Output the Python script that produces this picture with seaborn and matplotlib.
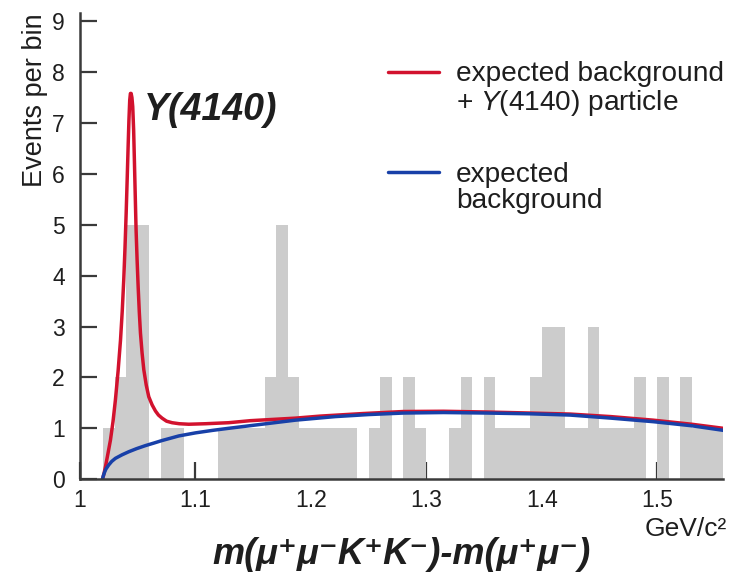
import numpy as np
import pandas as pd
import matplotlib
matplotlib.use("Agg")
import matplotlib.pyplot as plt
from matplotlib.lines import Line2D
import seaborn as sns

# ---- data ----
bin_edges = [round(1.02 + 0.01 * i, 2) for i in range(55)]
counts = [1, 2, 5, 5, 0, 1, 1, 0, 0, 0,
          1, 1, 1, 1, 2, 5, 2, 1, 1, 1,
          1, 1, 0, 1, 2, 0, 2, 1, 0, 0,
          1, 2, 0, 2, 1, 1, 1, 2, 3, 3,
          1, 1, 3, 1, 1, 1, 2, 0, 2, 0,
          2, 1, 1, 1]

bg_x = [1.0195, 1.0200, 1.0207, 1.0215, 1.0225, 1.0237, 1.0249, 1.0275, 1.0307,
        1.0365, 1.0423, 1.0490, 1.0567, 1.0640, 1.0711, 1.0856, 1.1000, 1.1150,
        1.1288, 1.1577, 1.1866, 1.2212, 1.2500, 1.2803, 1.3150, 1.3525, 1.3900,
        1.4247, 1.4600, 1.4968, 1.5300, 1.5574]
bg_y = [0.0, 0.05, 0.10, 0.15, 0.20, 0.24, 0.28, 0.35, 0.41,
        0.48, 0.54, 0.60, 0.66, 0.71, 0.76, 0.85, 0.91, 0.96,
        1.00, 1.08, 1.16, 1.23, 1.27, 1.30, 1.31, 1.30, 1.285,
        1.26, 1.20, 1.13, 1.05, 0.96]

sig_x = [1.0195, 1.0208, 1.0221, 1.0242, 1.0264, 1.0286, 1.0307, 1.0330, 1.0351,
         1.0366, 1.0379, 1.0390, 1.0400, 1.0409, 1.0417, 1.0424, 1.0431, 1.0437,
         1.0443, 1.0450, 1.0457, 1.0465, 1.0472, 1.0479, 1.0486, 1.0495, 1.0504,
         1.0514, 1.0524, 1.0538, 1.0553, 1.0574, 1.0596, 1.0625, 1.0654, 1.0680,
         1.0711, 1.0750, 1.0798, 1.0860, 1.0942, 1.1087, 1.1288, 1.1476, 1.1866,
         1.2082, 1.2450, 1.2803, 1.3150, 1.3525, 1.3900, 1.4247, 1.4600, 1.4968,
         1.5300, 1.5574]
sig_y = [0.0, 0.11, 0.25, 0.50, 0.77, 1.13, 1.56, 2.12, 2.73,
         3.30, 3.91, 4.55, 5.22, 5.90, 6.53, 7.05, 7.45, 7.58,
         7.58, 7.50, 7.32, 6.85, 6.21, 5.55, 4.90, 4.30, 3.78,
         3.28, 2.87, 2.48, 2.15, 1.85, 1.62, 1.46, 1.34, 1.26,
         1.20, 1.14, 1.11, 1.09, 1.08, 1.09, 1.11, 1.15, 1.20,
         1.24, 1.29, 1.33, 1.335, 1.32, 1.30, 1.28, 1.23, 1.16,
         1.08, 1.00]

x_ticks = [1.0, 1.1, 1.2, 1.3, 1.4, 1.5]
x_tick_labels = ["1", "1.1", "1.2", "1.3", "1.4", "1.5"]
y_ticks = list(range(0, 10))

centers = [(a + b) / 2 for a, b in zip(bin_edges[:-1], bin_edges[1:])]
hist_df = pd.DataFrame({"mass": centers, "n": counts})
sig_df = pd.DataFrame({"mass": sig_x, "events": sig_y})
bg_df = pd.DataFrame({"mass": bg_x, "events": bg_y})

# ---- style ----
sns.set_theme(style="white")
plt.rcParams["font.family"] = ["Liberation Sans", "DejaVu Sans"]
plt.rcParams["mathtext.fontset"] = "custom"
plt.rcParams["mathtext.rm"] = "Liberation Sans"
plt.rcParams["mathtext.it"] = "Liberation Sans:italic"
plt.rcParams["mathtext.bf"] = "Liberation Sans:bold"

RED = "#d2122e"
BLUE = "#1840a8"
GREY = "#cccccc"
AXC = "#3a3a3a"
TXT = "#1e1e1e"

fig = plt.figure(figsize=(7.42, 5.75), dpi=100)
ax = fig.add_axes([0.1078, 0.1666, 0.867, 0.8108])

sns.histplot(data=hist_df, x="mass", weights="n", bins=bin_edges, color=GREY,
             alpha=1.0, linewidth=0, edgecolor=None, ax=ax)
sns.lineplot(data=sig_df, x="mass", y="events", color=RED, lw=2.5, ax=ax)
sns.lineplot(data=bg_df, x="mass", y="events", color=BLUE, lw=2.5, ax=ax)
for ln in ax.get_lines():
    ln.set_solid_joinstyle("round")
    ln.set_solid_capstyle("round")

ax.set_xlim(1.0, 1.5574)
ax.set_ylim(0, 9.16)
ax.set_xticks(x_ticks)
ax.set_xticklabels(x_tick_labels)
ax.set_yticks(y_ticks)
ax.set_xlabel("")
ax.set_ylabel("Events per bin", fontsize=19.5, color=TXT, loc="top", labelpad=3)

for s in ["top", "right"]:
    ax.spines[s].set_visible(False)
for s in ["left", "bottom"]:
    ax.spines[s].set_color(AXC)
    ax.spines[s].set_linewidth(1.8)
ax.tick_params(axis="both", which="major", bottom=True, left=True,
               direction="in", length=12, width=1.6, color=AXC,
               labelsize=16.5, labelcolor=TXT)
ax.tick_params(axis="y", pad=11)
ax.tick_params(axis="x", pad=7)

ax.text(1.055, 7.25, "Y(4140)", fontsize=27, fontweight="bold", style="italic",
        va="center", ha="left", color=TXT)

# legends
h_red = Line2D([0], [0], color=RED, lw=2.5)
h_blue = Line2D([0], [0], color=BLUE, lw=2.5)
h_none = Line2D([0], [0], color="none", lw=0)
leg1 = ax.legend([h_red, h_none], ["expected background", "+ $\\mathit{Y(4140)}$ particle"],
                 loc="upper left", bbox_to_anchor=(0.479, 0.896), frameon=False,
                 fontsize=20.2, handlelength=1.8, handletextpad=0.62,
                 labelspacing=0.02, borderpad=0, borderaxespad=0, labelcolor=TXT)
ax.add_artist(leg1)
ax.legend([h_blue, h_none], ["expected", "background"],
          loc="upper left", bbox_to_anchor=(0.479, 0.681), frameon=False,
          fontsize=20.2, handlelength=1.8, handletextpad=0.62,
          labelspacing=0.02, borderpad=0, borderaxespad=0, labelcolor=TXT)

fig.text(0.869, 0.080, "GeV/c²", fontsize=19, ha="left", va="center", color=TXT)
fig.text(0.541, 0.036, "m(μ⁺μ⁻K⁺K⁻)-m(μ⁺μ⁻)", fontsize=26, fontweight="bold",
         style="italic", ha="center", va="center", color=TXT)

fig.savefig("out.png", dpi=100)
